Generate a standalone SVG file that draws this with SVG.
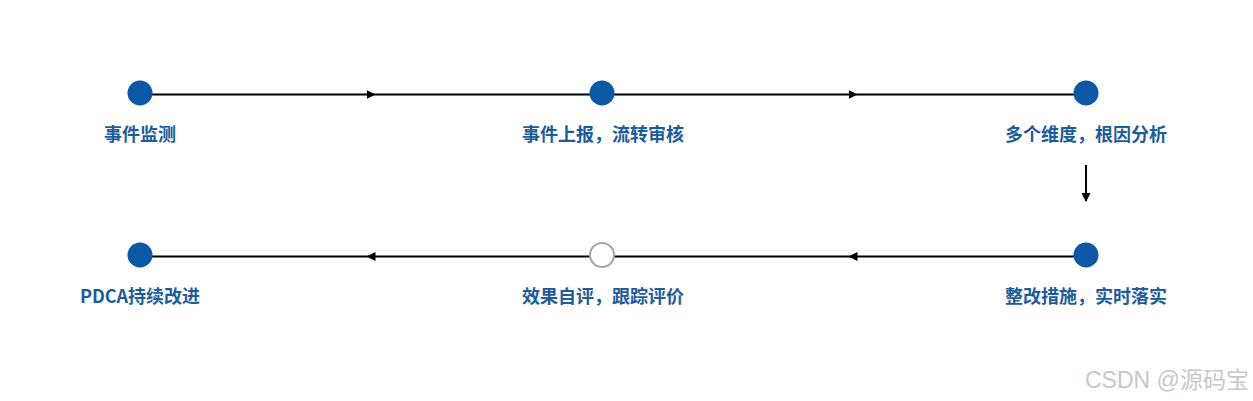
<svg xmlns="http://www.w3.org/2000/svg" width="1253" height="401" viewBox="0 0 1253 401">
<style>
.dot{fill:#0a58a6}
.hollow{fill:#fff;stroke:#a6a6a6;stroke-width:2}
.lbl{font-family:"Noto Sans CJK SC","Liberation Sans",sans-serif;font-weight:bold;font-size:18px;fill:#1c5b9c;text-anchor:middle}
.conn{stroke:#000;stroke-width:2;fill:none}
.wm{font-family:"Liberation Sans","Noto Sans CJK SC",sans-serif;font-size:23px;fill:#c8c8c8}
</style>
<defs>
<marker id="ah" viewBox="0 0 10 10" refX="5" refY="5" markerWidth="4.5" markerHeight="4.5" orient="auto" markerUnits="strokeWidth">
<path d="M0,0 L10,5 L0,10 z" fill="#000"/>
</marker>
<marker id="ahEnd" viewBox="0 0 10 10" refX="9" refY="5" markerWidth="4.5" markerHeight="4.5" orient="auto" markerUnits="strokeWidth">
<path d="M0,0 L10,5 L0,10 z" fill="#000"/>
</marker>
</defs>
<rect width="1253" height="401" fill="#fff"/>
<g id="connectors">
<path class="conn" d="M152,94.5 L371,94.5 L590,94.5" marker-mid="url(#ah)"/>
<path class="conn" d="M614,94.5 L853,94.5 L1074,94.5" marker-mid="url(#ah)"/>
<path class="conn" d="M1086,165 L1086,201" marker-end="url(#ahEnd)"/>
<path class="conn" d="M1074,256.5 L853,256.5 L614,256.5" marker-mid="url(#ah)"/>
<path class="conn" d="M590,256.5 L371,256.5 L152,256.5" marker-mid="url(#ah)"/>
</g>
<g id="n1"><circle class="dot" cx="140" cy="93" r="12.5"/><text class="lbl" x="140" y="141">事件监测</text></g>
<g id="n2"><circle class="dot" cx="602" cy="93" r="12.5"/><text class="lbl" x="603" y="141">事件上报，流转审核</text></g>
<g id="n3"><circle class="dot" cx="1086" cy="93" r="12.5"/><text class="lbl" x="1086" y="141">多个维度，根因分析</text></g>
<g id="n4"><circle class="dot" cx="1086" cy="255" r="12.5"/><text class="lbl" x="1086" y="303">整改措施，实时落实</text></g>
<g id="n5"><circle class="hollow" cx="602" cy="255" r="12"/><text class="lbl" x="603" y="303">效果自评，跟踪评价</text></g>
<g id="n6"><circle class="dot" cx="140" cy="255" r="12.5"/><text class="lbl" x="140" y="303">PDCA持续改进</text></g>
<text class="wm" x="1085" y="388">CSDN @源码宝</text>
</svg>
